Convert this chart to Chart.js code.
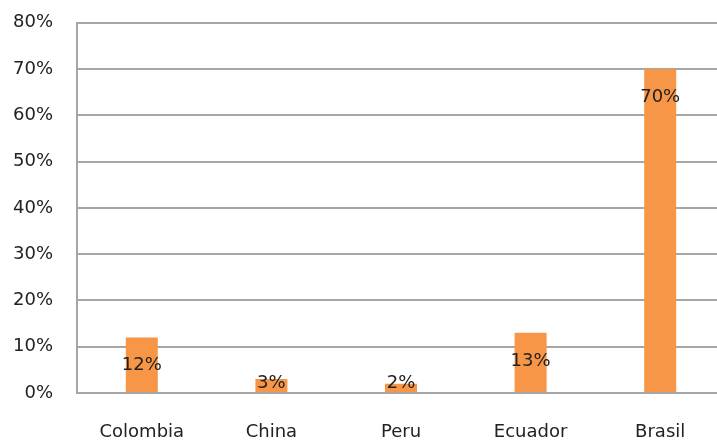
<!DOCTYPE html>
<html>
<head>
<meta charset="utf-8">
<script src="https://cdn.jsdelivr.net/npm/chart.js@4/dist/chart.umd.min.js"></script>
<style>
html,body{margin:0;padding:0;background:#fff;overflow:hidden;}
#wrap{width:725px;height:454px;position:relative;margin-top:-12px;}
</style>
</head>
<body>
<div id="wrap"><canvas id="c"></canvas></div>
<script>
const categories = ["Colombia", "China", "Peru", "Ecuador", "Brasil"];
const values = [12, 3, 2, 13, 70];
const yTicks = [0, 10, 20, 30, 40, 50, 60, 70, 80];

const FONT = "'DejaVu Sans', Verdana, sans-serif";

const labelPlugin = {
  id: 'insideEndLabels',
  afterDatasetsDraw(chart) {
    const ctx = chart.ctx;
    const meta = chart.getDatasetMeta(0);
    ctx.save();
    ctx.font = "18px " + FONT;
    ctx.fillStyle = "#222";
    ctx.textAlign = "center";
    ctx.textBaseline = "middle";
    meta.data.forEach((bar, i) => {
      const y = Math.min(bar.y + 28, bar.base - 9);
      ctx.fillText(values[i] + "%", bar.x, y);
    });
    ctx.restore();
  }
};

new Chart(document.getElementById('c'), {
  type: 'bar',
  data: {
    labels: categories,
    datasets: [{
      data: values,
      backgroundColor: '#F79646',
      borderWidth: 0,
      barPercentage: 0.247,
      categoryPercentage: 1.0
    }]
  },
  options: {
    responsive: true,
    maintainAspectRatio: false,
    animation: false,
    layout: { padding: { top: 0, left: 0, right: 0, bottom: 0 } },
    plugins: { legend: { display: false }, tooltip: { enabled: false } },
    scales: {
      x: {
        grid: { display: false, drawTicks: false },
        border: { display: false },
        ticks: { color: '#222', font: { family: FONT, size: 18 }, padding: 29, maxRotation: 0 },
        afterFit(scale) { scale.height = 49; }
      },
      y: {
        min: 0, max: 80,
        afterBuildTicks(scale) { scale.ticks = yTicks.map(v => ({ value: v })); },
        grid: { color: '#a6a6a6', lineWidth: 2, drawTicks: false },
        border: { display: true, color: '#a6a6a6', width: 2 },
        ticks: {
          color: '#222', font: { family: FONT, size: 18 }, padding: 24,
          callback: v => v + '%'
        },
        afterFit(scale) { scale.width = 77; }
      }
    }
  },
  plugins: [labelPlugin]
});
</script>
</body>
</html>
